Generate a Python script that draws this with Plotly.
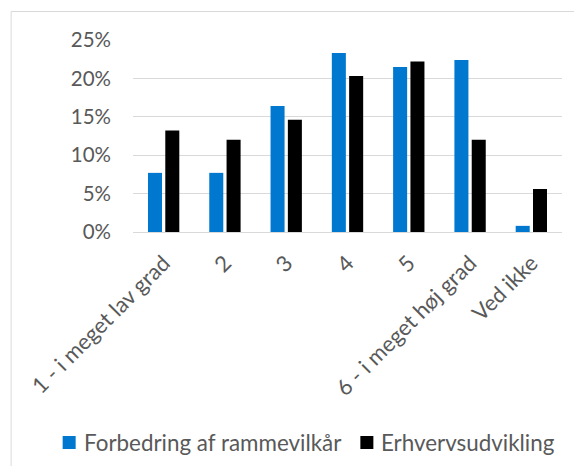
import plotly.graph_objects as go

categories = ["1 - i meget lav grad", "2", "3", "4", "5", "6 - i meget høj grad", "Ved ikke"]
series_names = ["Forbedring af rammevilkår", "Erhvervsudvikling"]
series_colors = ["#0078D0", "#000000"]
rammevilkaar = [0.077, 0.077, 0.164, 0.233, 0.215, 0.224, 0.008]
erhverv = [0.132, 0.120, 0.146, 0.203, 0.222, 0.120, 0.056]
y_ticks = [0, 0.05, 0.10, 0.15, 0.20, 0.25]
y_ticklabels = ["0%", "5%", "10%", "15%", "20%", "25%"]

# page is rendered with an 8px body margin -> figure origin at (8, 8)
OFF = 8
PAGE_W, PAGE_H = 582, 474
W, H = PAGE_W - 2 * OFF, PAGE_H - 2 * OFF
PL, PR, PT, PB = 133.3, 562, 40, 232          # plot area in page pixels
L, R, T, B = PL - OFF, (OFF + W) - PR, PT - OFF, (OFF + H) - PB
pw, ph = PR - PL, PB - PT

def px_x(p):
    return (p - PL) / pw

def px_y(p):
    return (PB - p) / ph

font_family = "Lato, 'Open Sans', sans-serif"
txt = "#595959"

fig = go.Figure()
fig.add_trace(go.Bar(x=categories, y=rammevilkaar, name=series_names[0],
                     marker=dict(color=series_colors[0], line=dict(width=0))))
fig.add_trace(go.Bar(x=categories, y=erhverv, name=series_names[1],
                     marker=dict(color=series_colors[1], line=dict(width=0))))

# legend drawn manually (square + label) to match spacing
legend_sq_x = [63, 360.5]
legend_txt_x = [82, 379]
leg_y0, leg_y1 = 436, 449
shapes = [
    dict(type="line", xref="paper", yref="paper",
         x0=px_x(11.5), x1=px_x(OFF + W), y0=px_y(11.5), y1=px_y(11.5),
         line=dict(color="#d9d9d9", width=1)),
    dict(type="line", xref="paper", yref="paper",
         x0=px_x(11.5), x1=px_x(11.5), y0=px_y(11.5), y1=px_y(OFF + H),
         line=dict(color="#d9d9d9", width=1)),
]
annotations = []
for i, name in enumerate(series_names):
    shapes.append(dict(type="rect", xref="paper", yref="paper",
                       x0=px_x(legend_sq_x[i]), x1=px_x(legend_sq_x[i] + 13),
                       y0=px_y(leg_y1), y1=px_y(leg_y0),
                       fillcolor=series_colors[i], line=dict(width=0)))
    annotations.append(dict(text=name, xref="paper", yref="paper",
                            x=px_x(legend_txt_x[i]), y=px_y((leg_y0 + leg_y1) / 2),
                            xanchor="left", yanchor="middle", showarrow=False,
                            font=dict(size=22.4, color=txt, family=font_family)))

fig.update_layout(
    width=W, height=H, autosize=False,
    margin=dict(l=L, r=R, t=T, b=B, pad=0),
    paper_bgcolor="white", plot_bgcolor="white",
    barmode="group", bargap=0.435, bargroupgap=0.19,
    font=dict(family=font_family, size=20, color=txt),
    showlegend=False,
    xaxis=dict(tickangle=-45, showgrid=False, zeroline=False, showline=False,
               ticks="", ticklabelstandoff=13, tickfont=dict(size=22, color=txt)),
    yaxis=dict(range=[0, 0.25], tickvals=y_ticks, ticktext=y_ticklabels,
               showgrid=True, gridcolor="#d9d9d9", gridwidth=1,
               zeroline=True, zerolinecolor="#d9d9d9", zerolinewidth=1,
               showline=False, ticks="", ticklabelstandoff=21,
               tickfont=dict(size=20.5, color=txt)),
    shapes=shapes,
    annotations=annotations,
)

fig.write_html("out.html", config={"displayModeBar": False})
